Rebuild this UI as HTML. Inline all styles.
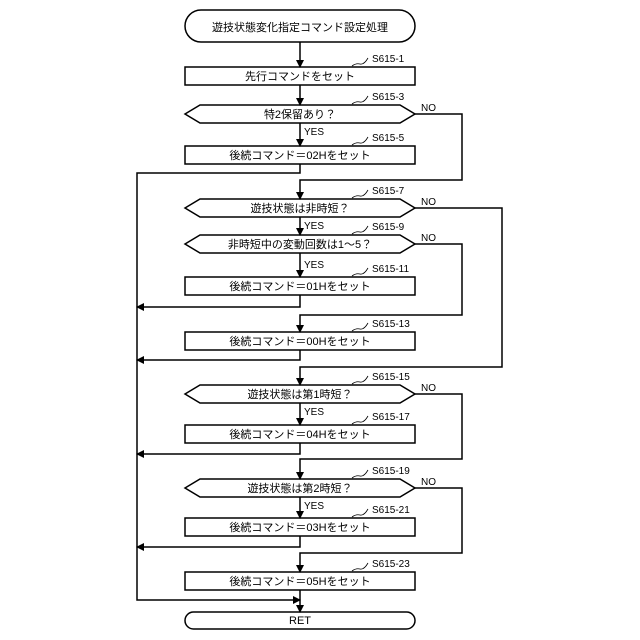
<!DOCTYPE html>
<html><head><meta charset="utf-8"><style>body{margin:0;background:#fff}svg{display:block}text{font-family:"Liberation Sans","Noto Sans CJK JP",sans-serif;fill:#000}</style></head><body>
<svg width="640" height="640" viewBox="0 0 640 640" xmlns="http://www.w3.org/2000/svg">
<defs>
<marker id="a" markerWidth="8" markerHeight="8" refX="7" refY="4" orient="auto" markerUnits="userSpaceOnUse"><path d="M0,0 L8,4 L0,8 Z" fill="#000"/></marker>
</defs>
<g stroke="#000" stroke-width="1.5" fill="none">
<rect x="185" y="10" width="230" height="32" rx="16" ry="16"/>
<rect x="185" y="67" width="230" height="18"/>
<path d="M185,114 L200,105 L400,105 L415,114 L400,123 L200,123 Z"/>
<rect x="185" y="146" width="230" height="18"/>
<path d="M185,208 L200,199 L400,199 L415,208 L400,217 L200,217 Z"/>
<path d="M185,244 L200,235 L400,235 L415,244 L400,253 L200,253 Z"/>
<rect x="185" y="277" width="230" height="18"/>
<rect x="185" y="332" width="230" height="18"/>
<path d="M185,394 L200,385 L400,385 L415,394 L400,403 L200,403 Z"/>
<rect x="185" y="425" width="230" height="18"/>
<path d="M185,488 L200,479 L400,479 L415,488 L400,497 L200,497 Z"/>
<rect x="185" y="518" width="230" height="18"/>
<rect x="185" y="572" width="230" height="18"/>
<rect x="185" y="612" width="230" height="17" rx="8.5" ry="8.5"/>
</g>
<g stroke="#000" stroke-width="1.5" fill="none" marker-end="url(#a)">
<path d="M300,42 V67"/>
<path d="M300,85 V105"/>
<path d="M300,123 V146"/>
<path d="M415,114 H462 V180 H300 V199"/>
<path d="M300,217 V235"/>
<path d="M300,253 V277"/>
<path d="M415,244 H462 V315 H300 V332"/>
<path d="M300,295 V307 H137"/>
<path d="M300,350 V360 H137"/>
<path d="M415,208 H502 V367 H300 V385"/>
<path d="M300,403 V425"/>
<path d="M300,443 V454 H137"/>
<path d="M415,394 H462 V459 H300 V479"/>
<path d="M300,497 V518"/>
<path d="M300,536 V547 H137"/>
<path d="M415,488 H462 V553 H300 V572"/>
<path d="M300,590 V612"/>
<path d="M300,164 V173 H137 V600 H300"/>
</g>
<g stroke="#000" stroke-width="0.8" fill="none">
<path d="M352,66 q4,-3 8,-2 t8,-6"/>
<path d="M352,104 q4,-3 8,-2 t8,-6"/>
<path d="M352,145 q4,-3 8,-2 t8,-6"/>
<path d="M352,198 q4,-3 8,-2 t8,-6"/>
<path d="M352,234 q4,-3 8,-2 t8,-6"/>
<path d="M352,276 q4,-3 8,-2 t8,-6"/>
<path d="M352,331 q4,-3 8,-2 t8,-6"/>
<path d="M352,384 q4,-3 8,-2 t8,-6"/>
<path d="M352,424 q4,-3 8,-2 t8,-6"/>
<path d="M352,478 q4,-3 8,-2 t8,-6"/>
<path d="M352,517 q4,-3 8,-2 t8,-6"/>
<path d="M352,571 q4,-3 8,-2 t8,-6"/>
</g>
<g font-size="11" text-anchor="middle">
<text x="300" y="31">遊技状態変化指定コマンド設定処理</text>
<text x="300" y="80">先行コマンドをセット</text>
<text x="300" y="118">特2保留あり？</text>
<text x="300" y="159">後続コマンド＝02Hをセット</text>
<text x="300" y="212">遊技状態は非時短？</text>
<text x="300" y="248">非時短中の変動回数は1～5？</text>
<text x="300" y="290">後続コマンド＝01Hをセット</text>
<text x="300" y="345">後続コマンド＝00Hをセット</text>
<text x="300" y="398">遊技状態は第1時短？</text>
<text x="300" y="438">後続コマンド＝04Hをセット</text>
<text x="300" y="492">遊技状態は第2時短？</text>
<text x="300" y="531">後続コマンド＝03Hをセット</text>
<text x="300" y="585">後続コマンド＝05Hをセット</text>
<text x="300" y="624">RET</text>
</g>
<g font-size="10">
<text x="372" y="62">S615-1</text>
<text x="372" y="100">S615-3</text>
<text x="372" y="141">S615-5</text>
<text x="372" y="194">S615-7</text>
<text x="372" y="230">S615-9</text>
<text x="372" y="272">S615-11</text>
<text x="372" y="327">S615-13</text>
<text x="372" y="380">S615-15</text>
<text x="372" y="420">S615-17</text>
<text x="372" y="474">S615-19</text>
<text x="372" y="513">S615-21</text>
<text x="372" y="567">S615-23</text>
<text x="421" y="111">NO</text>
<text x="421" y="205">NO</text>
<text x="421" y="241">NO</text>
<text x="421" y="391">NO</text>
<text x="421" y="485">NO</text>
<text x="304" y="135">YES</text>
<text x="304" y="229">YES</text>
<text x="304" y="268">YES</text>
<text x="304" y="415">YES</text>
<text x="304" y="509">YES</text>
</g>
</svg>
</body></html>
